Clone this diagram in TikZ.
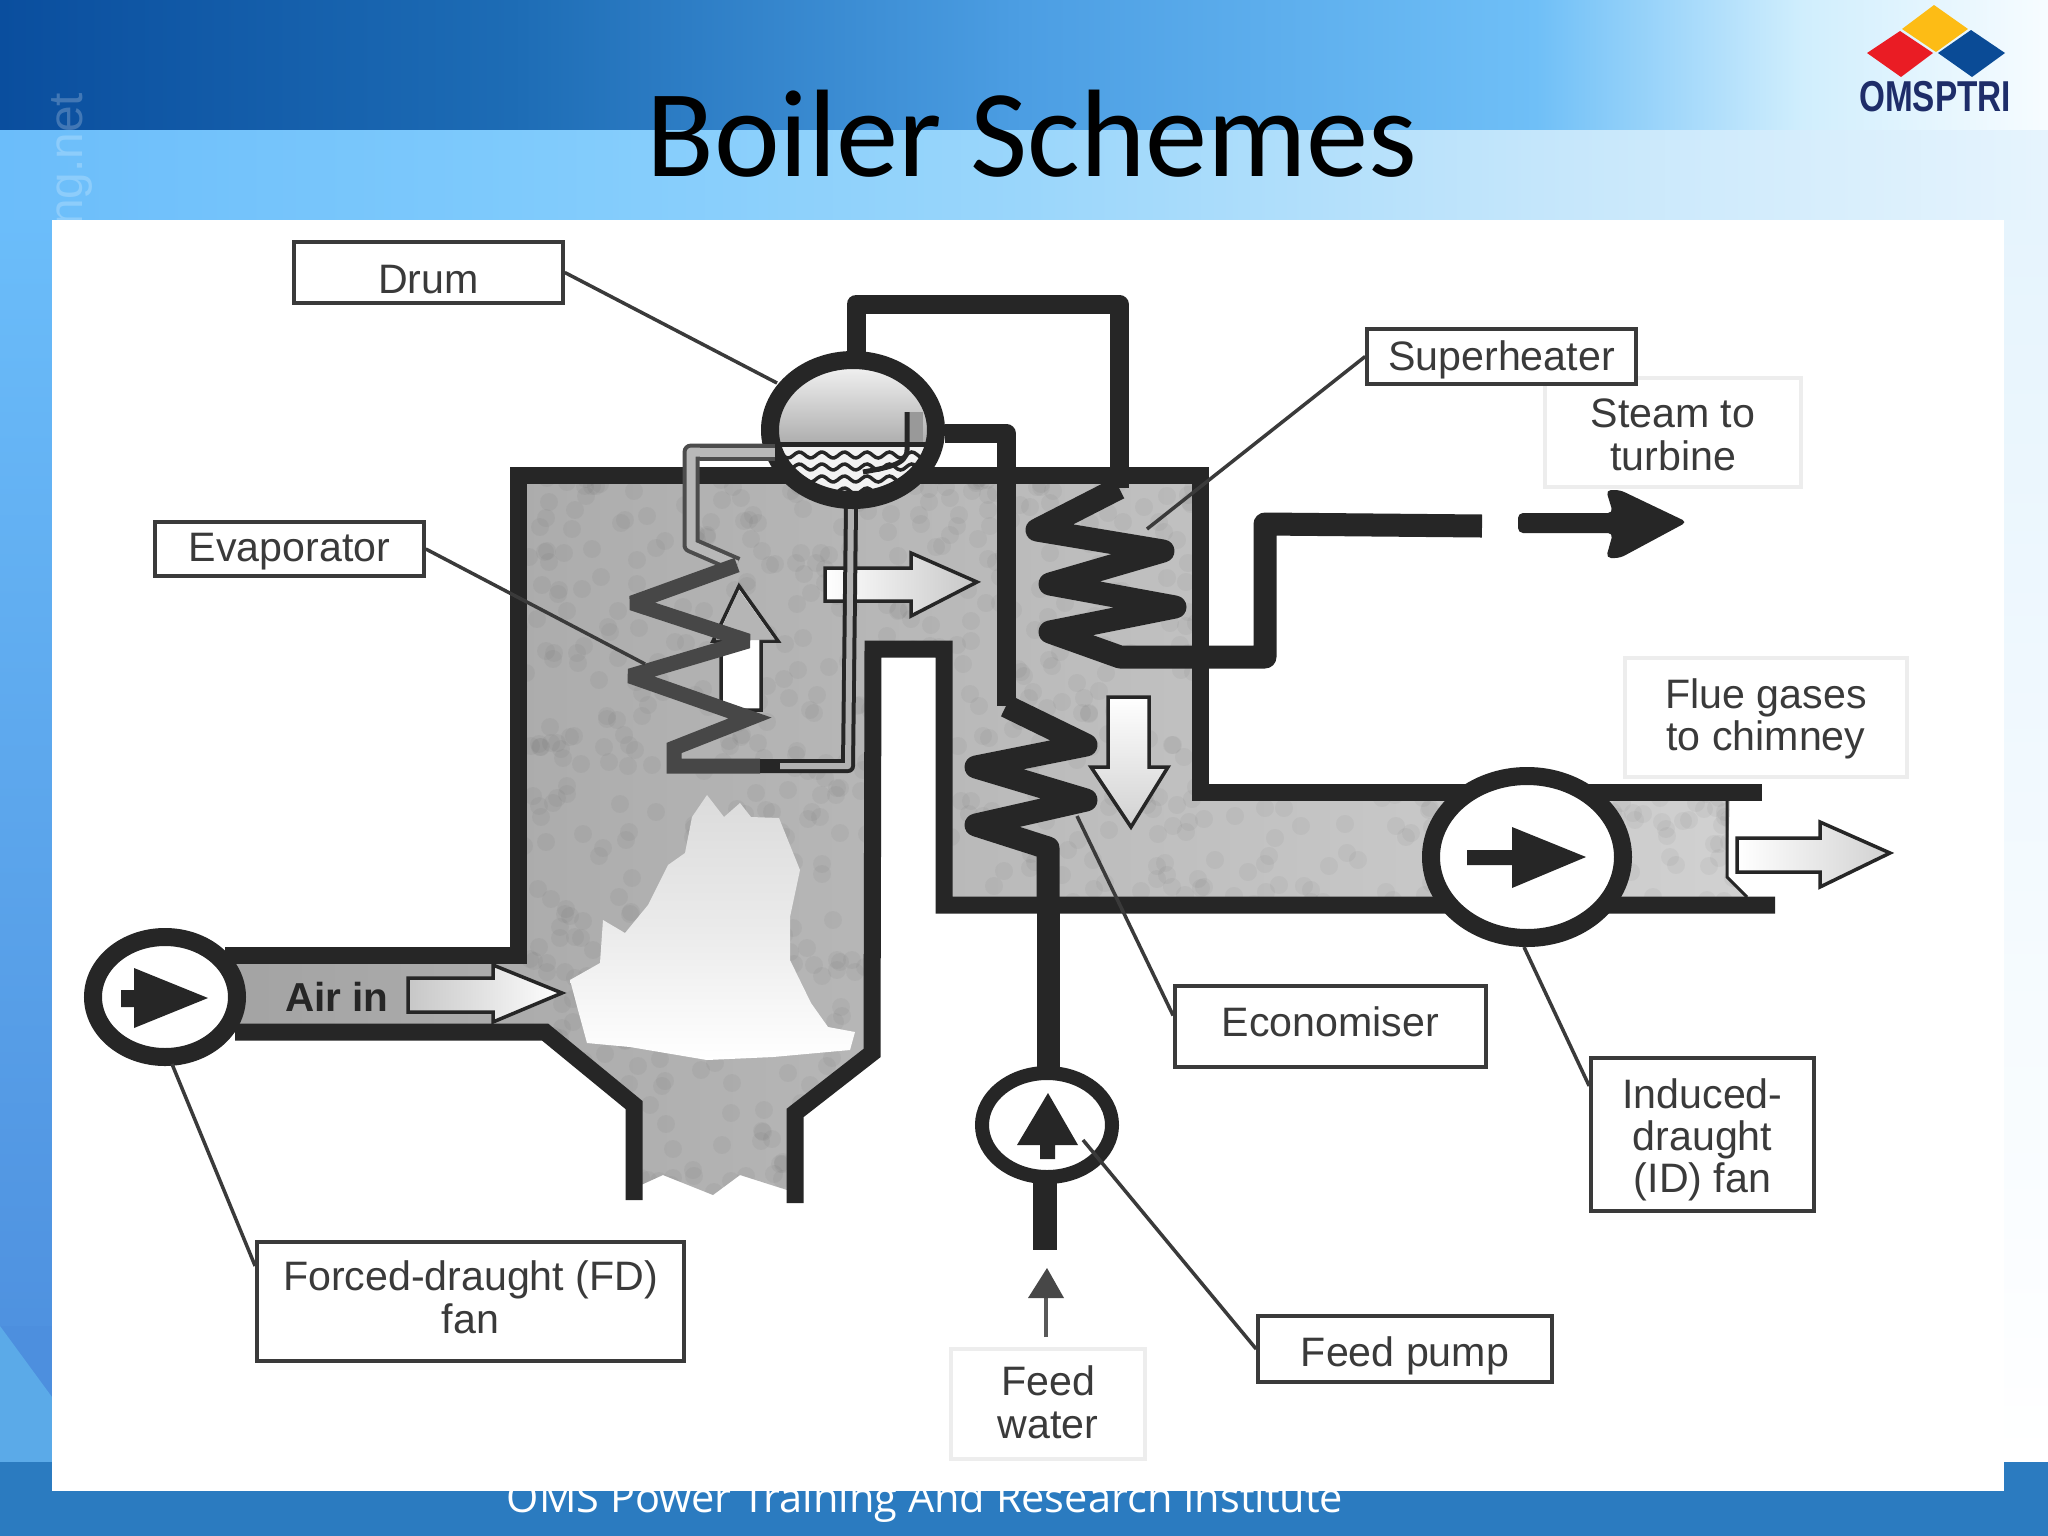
\documentclass[tikz,border=0pt]{standalone}
\usepackage{fontspec}
\setmainfont{Liberation Sans}
\newfontfamily\titlefont{Carlito}
\newfontfamily\footfont{Open Sans}
\usetikzlibrary{calc}
\definecolor{tba}{HTML}{0A4E9E}\definecolor{tbb}{HTML}{1D6CB5}\definecolor{tbc}{HTML}{4C9EE3}
\definecolor{tbd}{HTML}{6FBFF7}\definecolor{tbe}{HTML}{D0EEFD}\definecolor{tbf}{HTML}{F7FCFF}
\definecolor{lba}{HTML}{6BBDFA}\definecolor{lbb}{HTML}{7ECAFC}\definecolor{lbc}{HTML}{9AD6FB}
\definecolor{lbd}{HTML}{C4E6FB}\definecolor{lbe}{HTML}{E6F4FD}
\definecolor{leftlow}{HTML}{4D8FDE}
\definecolor{ink}{HTML}{262626}\definecolor{labelink}{HTML}{3A3A3A}
\definecolor{footband}{HTML}{2B7BC0}
\pgfdeclarehorizontalshading{topband}{100bp}{color(0bp)=(tba);color(25bp)=(tba);color(37.5bp)=(tbb);color(50bp)=(tbc);color(62.5bp)=(tbd);color(69bp)=(tbe);color(75bp)=(tbf);color(100bp)=(tbf)}
\pgfdeclarehorizontalshading{lowband}{100bp}{color(0bp)=(lba);color(25bp)=(lba);color(37.5bp)=(lbb);color(50bp)=(lbc);color(62.5bp)=(lbd);color(75bp)=(lbe);color(100bp)=(lbe)}
\def\greypath{(518,475) -- (1200,475) -- (1200,792) -- (1730,796) -- (1727,877) -- (1747,897) -- (1747,905) -- (944,905) -- (944,649) -- (873,649) -- (872,1053) -- (795,1113) -- (787,1190) -- (740,1175) -- (713,1195) -- (663,1175) -- (641,1185) -- (634,1105) -- (545,1032) -- (225,1032) -- (225,955) -- (518,955) -- cycle}
\tikzset{
  wall/.style={draw=ink,line width=.17cm,line join=miter},
  coil/.style={draw=ink,line width=.23cm,line join=round},
  pipe/.style={draw=ink,line width=.19cm,line join=round},
  fanring/.style={draw=ink,line width=.18cm,fill=white},
  solidarrow/.style={fill=ink,draw=none},
  hollow/.style={draw=ink,line width=.035cm,line join=miter},
  boxlab/.style={draw=labelink,line width=.035cm,fill=white,inner sep=0pt,align=center,text=labelink,font=\fontsize{11.7}{12}\selectfont,text depth=0pt,text height={2*#1*0.01cm}},
  faintlab/.style={boxlab=#1,draw=black!7},
  leader/.style={draw=labelink,line width=.035cm},
}
\begin{document}
\begin{tikzpicture}[x=0.01cm,y=-0.01cm]
\useasboundingbox (0,0) rectangle (2048,1536);
% slide background
\fill[shading=topband] (0,0) rectangle (2048,130);
\fill[shading=lowband] (0,130) rectangle (2048,220);
\shade[top color=lba,bottom color=leftlow] (0,220) rectangle (52,1397);
\fill[leftlow] (0,1326) rectangle (52,1462);
\fill[color={rgb,255:red,91;green,170;blue,232}] (0,1326) -- (52,1397) -- (52,1462) -- (0,1462) -- cycle;
\shade[top color=lbe,bottom color=white] (2004,220) rectangle (2048,1462);
\fill[footband] (0,1462) rectangle (2048,1536);
\node[rotate=90,anchor=east,text=white,opacity=.22,font=\fontsize{13.6}{14}\selectfont,inner sep=0pt] (mark) at (72,92) {ng.net};
\node[text=white,font=\footfont\fontsize{11.8}{14}\selectfont,inner sep=0pt,anchor=base] (foot) at (925,1512) {OMS Power Training And Research Institute};
\fill[white] (52,220) rectangle (2004,1491);
% logo
\fill[color={rgb,255:red,253;green,188;blue,21}] (1934,5) -- (1968,29) -- (1936,52) -- (1902,29) -- cycle;
\fill[color={rgb,255:red,234;green,28;blue,36}] (1900,31) -- (1933,53) -- (1901,77) -- (1867,53) -- cycle;
\fill[color={rgb,255:red,10;green,75;blue,150}] (1971,30) -- (2005,53) -- (1972,77) -- (1938,53) -- cycle;
\node[anchor=base,xscale=.77,inner sep=0pt,font=\fontsize{12.3}{13}\selectfont\bfseries,text={rgb,255:red,30;green,45;blue,105}] (logotext) at (1935,111) {OMSPTRI};
% title
\node[anchor=base,inner sep=0pt,font=\titlefont\fontsize{35.4}{40}\selectfont,text=black] (title) at (1032,176) {Boiler Schemes};
% gas-filled interior
\shade[left color=black!36,right color=black!18] \greypath;
\begin{scope}
\clip \greypath;
\pgfmathsetseed{42}
\foreach \i in {1,...,1400}{
  \pgfmathsetmacro\ax{random(518,1750)}
  \pgfmathsetmacro\ay{random(475,1200)}
  \fill[black,opacity=.035] (\ax,\ay) circle (.09cm);
}
\end{scope}
% flame
\shade[top color=black!14,bottom color=white,middle color=white!92!black] (570,980) -- (600,963) -- (603,920) -- (625,933) -- (648,905) -- (668,865) -- (685,853) -- (692,817) -- (707,795) -- (724,817) -- (740,803) -- (751,817) -- (779,818) -- (800,870) -- (790,917) -- (790,960) -- (811,1003) -- (828,1027) -- (855,1032) -- (850,1050) -- (773,1057) -- (707,1060) -- (630,1047) -- (587,1043) -- (578,1010) -- cycle;
% flow arrows
\draw[hollow,left color=black!22,right color=white] (408,978) -- (493,978) -- (493,965) -- (562,993) -- (493,1022) -- (493,1012) -- (408,1012) -- cycle;
\draw[hollow,fill=white] (721,710) -- (721,641) -- (713,641) -- (739,586) -- (778,641) -- (761,641) -- (761,710) -- cycle;
\fill[black!36,opacity=.8] (716,640) -- (739,590) -- (775,640) -- cycle;
\draw[hollow,left color=white,right color=black!22] (825,568) -- (911,568) -- (911,553) -- (977,582) -- (911,616) -- (911,601) -- (825,601) -- cycle;
\draw[hollow,top color=white,bottom color=black!18] (1108,697) -- (1149,697) -- (1149,767) -- (1168,767) -- (1131,827) -- (1091,767) -- (1108,767) -- cycle;
\draw[hollow,left color=white,right color=black!18] (1737,838) -- (1820,838) -- (1820,822) -- (1890,853) -- (1820,887) -- (1820,872) -- (1737,872) -- cycle;
\node[inner sep=0pt,text=ink,font=\fontsize{11.5}{12}\selectfont\bfseries] (airin) at (337,997) {Air in};
% flue exit edge
\draw[draw=ink,line width=.03cm] (1727,800) -- (1727,877) -- (1747,897);
% walls
\draw[wall] (225,955) -- (518,955) -- (518,475) -- (1200,475) -- (1200,792) -- (1762,792);
\draw[wall] (235,1032) -- (545,1032) -- (634,1105) -- (634,1200);
\draw[wall] (795,1203) -- (795,1113) -- (872,1053) -- (873,649) -- (944,649) -- (944,905) -- (1775,905);
% evaporator tube
\draw[draw=black!70,line width=.17cm,line join=round] (781,452) -- (691,452) -- (691,545) -- (737,565);
\draw[draw=black!28,line width=.09cm,line join=round] (781,452) -- (691,452) -- (691,545) -- (737,565);
\draw[draw=black!72,line width=.15cm,line join=miter,miter limit=3] (737,565) -- (632,603) -- (748,641) -- (630,676) -- (750,718) -- (674,748) -- (674,766) -- (760,766);
\draw[draw=ink,line width=.14cm,line join=round] (760,766) -- (848,766) -- (851,507);
\draw[draw=black!30,line width=.06cm,line join=round] (780,766) -- (848,766) -- (851,507);
% superheater and economiser
\draw[pipe] (856,360) -- (856,304) -- (1119,304) -- (1119,488);
\draw[coil] (1119,488) -- (1037,530) -- (1163,551) -- (1050,584) -- (1175,607) -- (1050,632) -- (1120,657) -- (1265,657) -- (1265,524) -- (1482,526);
\draw[pipe] (945,433) -- (1006,433) -- (1006,706);
\draw[coil] (1006,706) -- (1086,745) -- (976,767) -- (1086,800) -- (976,825) -- (1048,848) -- (1048,905);
\draw[draw=ink,line width=.23cm] (1048,905) -- (1048,1070);
\draw[draw=ink,line width=.24cm] (1045,1180) -- (1045,1250);
% steam outlet arrow
\fill[ink,rounded corners=.05cm] (1518,513) -- (1613,513) -- (1606,490) -- (1620,490) -- (1687,522) -- (1620,558) -- (1606,558) -- (1613,533) -- (1518,533) -- cycle;
% FD fan
\draw[fanring] (165,997) ellipse [x radius=72,y radius=60];
\fill[solidarrow] (121,990) -- (134,990) -- (134,968) -- (208,998) -- (134,1028) -- (134,1007) -- (121,1007) -- cycle;
% ID fan
\draw[fanring] (1527,857) ellipse [x radius=96,y radius=81];
\fill[solidarrow] (1467,850) -- (1512,850) -- (1512,827) -- (1586,857) -- (1512,888) -- (1512,865) -- (1467,865) -- cycle;
% feed pump
\draw[fanring,line width=.14cm] (1047,1125) ellipse [x radius=65,y radius=52];
\fill[solidarrow] (1040,1159) -- (1040,1145) -- (1017,1145) -- (1048,1093) -- (1078,1145) -- (1055,1145) -- (1055,1159) -- cycle;
% feed water arrow
\coordinate (fwtail) at (1046,1337);
\coordinate (fwhead) at (1046,1290);
\draw[draw=black!65,line width=.04cm] (fwtail) -- (fwhead);
\fill[black!72] (1047,1268) -- (1064,1298) -- (1028,1298) -- cycle;
% drum
\draw[fill=white,draw=none] (853,430) ellipse [x radius=83,y radius=70];
\begin{scope}
\clip (853,430) ellipse [x radius=83,y radius=70];
\shade[top color=white,bottom color=black!32] (760,350) rectangle (950,444);
\fill[black!5] (760,444) rectangle (950,510);
\foreach \r in {455,467,479,491}{
  \draw[draw=ink,line width=.035cm] plot[domain=0:190,samples=70] ({760+\x},{\r+3*sin(\x*16)});
}
\draw[draw=ink,line width=.05cm] (760,444) -- (950,444);
\end{scope}
\fill[black!40] (907,412) rectangle (923,442);
\draw[draw=ink,line width=.05cm] (907,412) -- (907,450) .. controls (907,465) and (885,468) .. (863,472);
\draw[draw=ink,line width=.18cm] (853,430) ellipse [x radius=83,y radius=70];
\draw[draw=black!70,line width=.17cm] (775,452) -- (700,452);
\draw[draw=black!28,line width=.09cm] (775,452) -- (700,452);
% labels
\node[boxlab=20.5,minimum width=2.69cm,minimum height=.61cm] (drumlab) at (428.5,272.5) {Drum};
\node[faintlab=37.5,minimum width=2.56cm,minimum height=1.09cm] (steamlab) at (1673,432.5) {Steam to\\turbine};
\node[boxlab=13.5,minimum width=2.69cm,minimum height=.55cm] (shlab) at (1501.5,356.5) {Superheater};
\node[boxlab=12,minimum width=2.69cm,minimum height=.54cm] (evlab) at (289.5,549) {Evaporator};
\node[faintlab=33,minimum width=2.82cm,minimum height=1.19cm] (fluelab) at (1766,717.5) {Flue gases\\to chimney};
\node[boxlab=9.5,minimum width=3.11cm,minimum height=.81cm] (ecolab) at (1330.5,1026.5) {Economiser};
\node[boxlab=58,minimum width=2.23cm,minimum height=1.53cm] (idlab) at (1702.5,1134.5) {Induced-\\draught\\(ID) fan};
\node[boxlab=31.5,minimum width=4.27cm,minimum height=1.19cm] (fdlab) at (470.5,1301.5) {Forced-draught (FD)\\fan};
\node[boxlab=17,minimum width=2.94cm,minimum height=.66cm] (fplab) at (1405,1349) {Feed pump};
\node[faintlab=34,minimum width=1.94cm,minimum height=1.10cm] (fwlab) at (1048,1404) {Feed\\water};
% leaders
\coordinate (drumpt) at (777,383);
\coordinate (shpt) at (1147,529);
\coordinate (evpt) at (645,664);
\coordinate (ecopt) at (1077,816);
\coordinate (idpt) at (1524,947);
\coordinate (fdpt) at (172,1064);
\coordinate (fppt) at (1083,1140);
\draw[leader] (drumlab.east) -- (drumpt);
\draw[leader] (shlab.west) -- (shpt);
\draw[leader] (evlab.east) -- (evpt);
\draw[leader] ($(ecolab.north west)!.37!(ecolab.south west)$) -- (ecopt);
\draw[leader] ($(idlab.north west)!.19!(idlab.south west)$) -- (idpt);
\draw[leader] ($(fdlab.north west)!.21!(fdlab.south west)$) -- (fdpt);
\draw[leader] (fplab.west) -- (fppt);
\end{tikzpicture}
\end{document}
